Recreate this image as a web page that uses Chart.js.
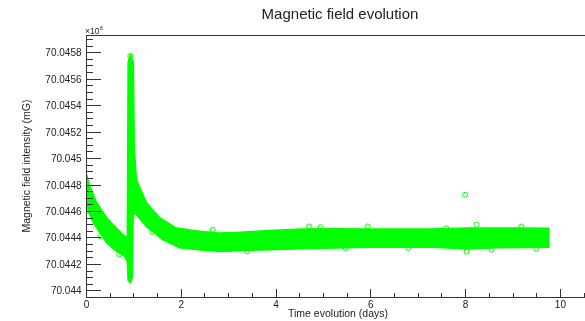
<!DOCTYPE html>
<html>
<head>
<meta charset="utf-8">
<title>Magnetic field evolution</title>
<script src="https://cdn.jsdelivr.net/npm/chart.js@4.4.1/dist/chart.umd.min.js"></script>
<style>
  html, body { margin: 0; padding: 0; background: #fff; overflow: hidden; }
  #magChart { display: block; }
</style>
</head>
<body>
<canvas id="magChart" width="600" height="321"></canvas>
<script>
// upper and lower edge of the measurement band (days, field in 10^6 mG)
const upperDays = [0.0, 0.084, 0.225, 0.435, 0.574, 0.784, 0.872, 0.889, 0.935, 0.998, 1.019, 1.065, 1.275, 1.555, 1.905, 2.395, 2.815, 3.166, 3.866, 4.565, 5.267, 5.966, 7.227, 8.067, 9.118, 9.763];
const upperField = [70.044891, 70.044785, 70.044662, 70.044549, 70.044496, 70.044420, 70.044398, 70.045726, 70.045779, 70.045726, 70.045062, 70.044835, 70.044662, 70.044549, 70.044471, 70.044447, 70.044433, 70.044438, 70.044453, 70.044463, 70.044466, 70.044463, 70.044463, 70.044471, 70.044471, 70.044469];

const lowerDays = [0.0, 0.011, 0.153, 0.435, 0.645, 0.819, 0.872, 0.889, 0.935, 0.977, 0.994, 1.029, 1.275, 1.618, 1.975, 2.465, 2.815, 3.51, 4.565, 5.267, 5.966, 7.227, 8.067, 8.697, 9.763];
const lowerField = [70.044866, 70.044632, 70.044511, 70.044360, 70.044294, 70.044257, 70.044217, 70.044073, 70.044058, 70.044096, 70.044564, 70.044586, 70.044481, 70.044383, 70.044322, 70.044303, 70.044294, 70.044303, 70.044315, 70.044320, 70.044326, 70.044328, 70.044312, 70.044322, 70.044326];

// single readings that stick out of the band edges
const markerDays = [0.935, 0.96, 0.05, 0.30, 0.70, 1.40, 2.675, 3.40, 4.706, 4.95, 5.476, 5.945, 6.80, 7.60, 8.0, 8.03, 8.24, 8.557, 9.187, 9.50];
const markerField = [70.045771, 70.045439, 70.044600, 70.044410, 70.044270, 70.044440, 70.044458, 70.044295, 70.044483, 70.044478, 70.044320, 70.044483, 70.044320, 70.044470, 70.044722, 70.044294, 70.044496, 70.044307, 70.044483, 70.044315];

const xTicks = [0, 2, 4, 6, 8, 10];
const yTicks = [70.044, 70.0442, 70.0444, 70.0446, 70.0448, 70.045, 70.0452, 70.0454, 70.0456, 70.0458];
const yTickLabels = ['70.044', '70.0442', '70.0444', '70.0446', '70.0448', '70.045', '70.0452', '70.0454', '70.0456', '70.0458'];

// band outline: along the top edge, then back along the bottom edge
const bandOutline = upperDays.map((d, i) => ({ x: d, y: upperField[i] }))
    .concat(lowerDays.map((d, i) => ({ x: d, y: lowerField[i] })).reverse());
const markers = markerDays.map((d, i) => ({ x: d, y: markerField[i] }));

// minor tick positions: 4 subdivisions of each major step
const yMinor = [];
[-2, -1].concat(yTicks.map((v, i) => i)).forEach(k => {
    [1, 2, 3].forEach(j => yMinor.push(70.044 + (k * 4 + j) * 0.00005));
});
const xMinor = [];
xTicks.forEach(v => { [0.5, 1, 1.5].forEach(d => xMinor.push(v + d)); });

const FONT = '"Liberation Sans", Arial, Helvetica, sans-serif';

// ROOT-like frame: inward ticks, minor ticks, labels and titles
const rootFrame = {
    id: 'rootFrame',
    afterDraw(chart) {
        const ctx = chart.ctx;
        const area = chart.chartArea;
        const xs = chart.scales.x;
        const ys = chart.scales.y;
        const left = Math.round(area.left);
        const right = Math.round(area.right);
        const top = Math.round(area.top);
        const bottom = Math.round(area.bottom);

        ctx.save();
        ctx.fillStyle = '#333';
        ctx.fillRect(left, top, 1, bottom - top + 1);
        ctx.fillRect(left, top, right - left + 1, 1);
        ctx.fillRect(left, bottom, right - left + 1, 1);

        yTicks.forEach(v => {
            ctx.fillRect(left, Math.round(ys.getPixelForValue(v)), 15, 1);
        });
        yMinor.forEach(v => {
            const py = Math.round(ys.getPixelForValue(v));
            if (py > top && py < bottom) ctx.fillRect(left, py, 7, 1);
        });
        xTicks.forEach(v => {
            ctx.fillRect(Math.round(xs.getPixelForValue(v)), bottom - 8, 1, 8);
        });
        xMinor.forEach(v => {
            const px = Math.round(xs.getPixelForValue(v));
            if (px < right) ctx.fillRect(px, bottom - 4, 1, 4);
        });

        ctx.fillStyle = '#222';
        ctx.font = '10px ' + FONT;
        ctx.textBaseline = 'alphabetic';
        ctx.textAlign = 'right';
        yTicks.forEach((v, i) => {
            ctx.fillText(yTickLabels[i], left - 4.5, ys.getPixelForValue(v) + 4);
        });
        ctx.textAlign = 'center';
        xTicks.forEach(v => {
            ctx.fillText(String(v), xs.getPixelForValue(v) + 0.5, bottom + 11);
        });

        // exponent above the y axis
        ctx.textAlign = 'left';
        ctx.font = '8.5px ' + FONT;
        ctx.fillText('\u00d710', left - 1, top - 1);
        ctx.font = '5.5px ' + FONT;
        ctx.fillText('6', left + 14, top - 5);

        // axis titles
        ctx.font = '10.5px ' + FONT;
        ctx.textAlign = 'center';
        ctx.fillText('Time evolution (days)', 338, 317);
        ctx.save();
        ctx.translate(30, (area.top + area.bottom) / 2);
        ctx.rotate(-Math.PI / 2);
        ctx.fillText('Magnetic field intensity (mG)', 0, 0);
        ctx.restore();

        // main title
        ctx.font = '15px ' + FONT;
        ctx.fillText('Magnetic field evolution', 340, 18.5);
        ctx.restore();
    }
};

new Chart(document.getElementById('magChart'), {
    type: 'line',
    data: {
        datasets: [{
            label: 'band',
            data: bandOutline,
            fill: 'shape',
            backgroundColor: '#00ff00',
            borderColor: '#00ff00',
            borderWidth: 1.5,
            pointRadius: 0,
            tension: 0
        }, {
            type: 'scatter',
            label: 'outliers',
            data: markers,
            showLine: false,
            pointStyle: 'circle',
            pointRadius: 2.5,
            borderColor: '#00ff00',
            backgroundColor: 'rgba(0,0,0,0)',
            borderWidth: 1
        }]
    },
    options: {
        responsive: false,
        animation: false,
        events: [],
        layout: { padding: { left: 86, top: 35, right: 2.5, bottom: 24 } },
        plugins: {
            legend: { display: false },
            title: { display: false },
            tooltip: { enabled: false }
        },
        scales: {
            x: { type: 'linear', min: 0, max: 10.74, display: false },
            y: { type: 'linear', min: 70.04395, max: 70.04593, display: false }
        }
    },
    plugins: [rootFrame]
});
</script>
</body>
</html>
